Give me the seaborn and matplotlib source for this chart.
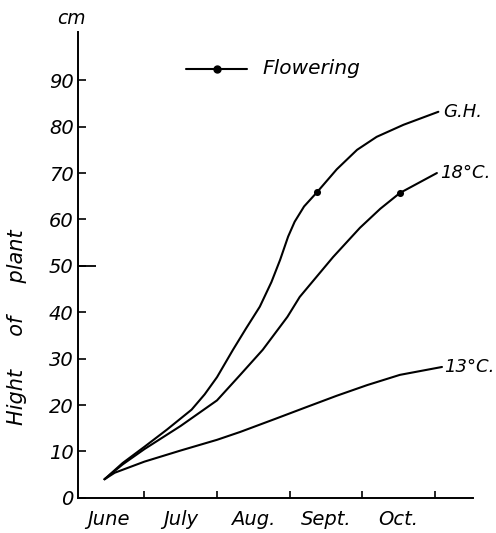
import matplotlib
matplotlib.use("Agg")
import matplotlib.pyplot as plt
import seaborn as sns
import pandas as pd

# data (x in months from June 1, y in cm)
gh_x = [0.45, 0.7, 1.0, 1.31, 1.65, 1.83, 2.0, 2.22, 2.4, 2.59, 2.75, 2.87, 2.98, 3.07, 3.2, 3.38, 3.65, 3.93, 4.2, 4.57, 5.05]
gh_y = [4.0, 7.5, 11.0, 14.7, 19.0, 22.3, 26.0, 31.9, 36.5, 41.2, 46.5, 51.3, 56.3, 59.5, 62.8, 65.9, 70.8, 75.0, 77.8, 80.4, 83.2]
c18_x = [0.45, 0.7, 1.0, 1.5, 2.0, 2.32, 2.63, 2.97, 3.14, 3.6, 3.97, 4.25, 4.52, 5.03]
c18_y = [4.0, 7.2, 10.5, 15.5, 21.0, 26.5, 31.9, 39.0, 43.3, 51.9, 58.2, 62.3, 65.7, 70.0]
c13_x = [0.45, 0.59, 1.0, 1.5, 2.0, 2.32, 2.8, 3.24, 3.65, 4.07, 4.52, 5.1]
c13_y = [4.0, 5.4, 7.8, 10.2, 12.5, 14.2, 17.0, 19.6, 22.0, 24.3, 26.5, 28.2]
flower_x = [3.38, 4.52]
flower_y = [65.9, 65.7]
series_names = ["G.H.", "18°C.", "13°C."]
months = ["June", "July", "Aug.", "Sept.", "Oct."]
yticks = [0, 10, 20, 30, 40, 50, 60, 70, 80, 90]

sns.set_style("white")
plt.rcParams["font.family"] = ["DejaVu Sans"]
plt.rcParams["text.color"] = "black"
plt.rcParams["xtick.color"] = "black"
plt.rcParams["ytick.color"] = "black"
plt.rcParams["axes.labelcolor"] = "black"

rows = []
for name, xs, ys in zip(series_names, [gh_x, c18_x, c13_x], [gh_y, c18_y, c13_y]):
    for x, y in zip(xs, ys):
        rows.append({"series": name, "month": x, "height": y})
df = pd.DataFrame(rows)

fig = plt.figure(figsize=(4.96, 5.33), dpi=100)
ax = fig.add_axes([0.157, 0.066, 0.797, 0.874])

sns.lineplot(data=df, x="month", y="height", units="series", estimator=None,
             color="black", linewidth=1.5, ax=ax, sort=False)
sns.scatterplot(x=flower_x, y=flower_y, color="black", s=26, ax=ax, zorder=5, linewidth=0)

ax.set_xlim(0.083, 5.53)
ax.set_ylim(0, 100.4)
for s in ["top", "right"]:
    ax.spines[s].set_visible(False)
for s in ["left", "bottom"]:
    ax.spines[s].set_color("black")
    ax.spines[s].set_linewidth(1.4)

ax.yaxis.remove_overlapping_locs = False
ax.set_yticks(yticks)
ax.set_yticklabels([str(v) for v in yticks], fontsize=14, style="italic")
ax.set_yticks([50], minor=True)
ax.set_yticklabels([""], minor=True)
ax.set_xticks([1, 2, 3, 4, 5])
ax.set_xticklabels([])
ax.tick_params(axis="x", which="major", direction="in", length=5, width=1.2, color="black",
               bottom=True, top=False)
ax.tick_params(axis="y", which="major", direction="in", length=6, width=1.2, color="black",
               left=True, right=False, pad=3)
ax.tick_params(axis="y", which="minor", direction="in", length=13, width=1.3, color="black",
               left=True, right=False)
for i, m in enumerate(months):
    ax.text(i + 0.5, -2.6, m, ha="center", va="top", fontsize=14, style="italic")

ax.set_xlabel("")
ax.set_ylabel("")
fig.text(0.034, 1 - 327 / 533, "Hight     of     plant", rotation=90, ha="center", va="center",
         fontsize=15, style="italic")
ax.text(0.0, 103.2, "cm", ha="center", va="center", fontsize=13.5, style="italic", clip_on=False)

# end labels
ax.text(5.12, 83.2, "G.H.", ha="left", va="center", fontsize=13, style="italic")
ax.text(5.08, 70.0, "18°C.", ha="left", va="center", fontsize=13, style="italic")
ax.text(5.13, 28.2, "13°C.", ha="left", va="center", fontsize=13, style="italic")

# legend
ax.plot([1.57, 2.41], [92.5, 92.5], color="black", linewidth=1.5)
ax.plot([2.0], [92.5], "o", color="black", markersize=5)
ax.text(2.63, 92.5, "Flowering", ha="left", va="center", fontsize=14.5, style="italic")

fig.savefig("out.png", dpi=100)
